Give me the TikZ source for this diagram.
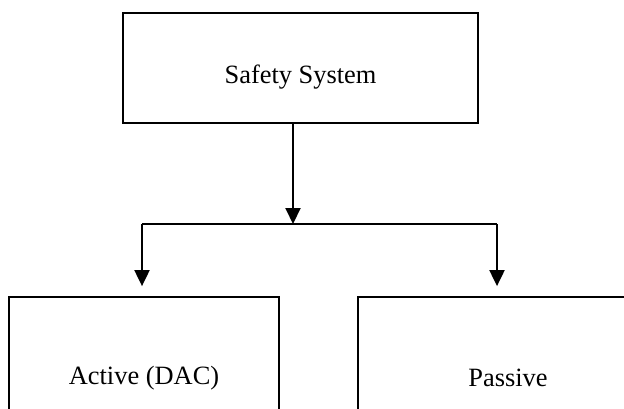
\documentclass[tikz,border=0pt]{standalone}
\usepackage{fontspec}
\setmainfont{Liberation Serif}
\usetikzlibrary{arrows.meta}

\begin{document}
\begin{tikzpicture}[x=0.5pt,y=-0.5pt,
  box/.style={draw,line width=0.9pt,font=\fontsize{13.2}{16}\selectfont},
  link/.style={line width=1pt},
  arrow/.style={link,-{Triangle[width=7.5pt,length=8pt]}}]
% Fix the page
\useasboundingbox (0,0) rectangle (624,408);
\clip (0,0) rectangle (624,408);

% Draw the boxes
\node[box,minimum width=177.5pt,minimum height=55pt,text height=18pt,text depth=3pt] (safety) at (300.5,68) {Safety System};
\node[box,minimum width=135pt,minimum height=81pt] (active) at (144,378) {Active (DAC)};
\node[box,minimum width=150pt,minimum height=81pt] (passive) at (508,378) {Passive};

% Branch points
\coordinate (split) at (293,224);
\coordinate (lturn) at (142,224);
\coordinate (rturn) at (497,224);

% Draw connections
\draw[arrow] (split |- safety.south) -- (split);
\draw[link] (lturn) -- (rturn);
\draw[arrow,shorten >=5pt] (lturn) -- (lturn |- active.north);
\draw[arrow,shorten >=5pt] (rturn) -- (rturn |- passive.north);
\end{tikzpicture}
\end{document}
